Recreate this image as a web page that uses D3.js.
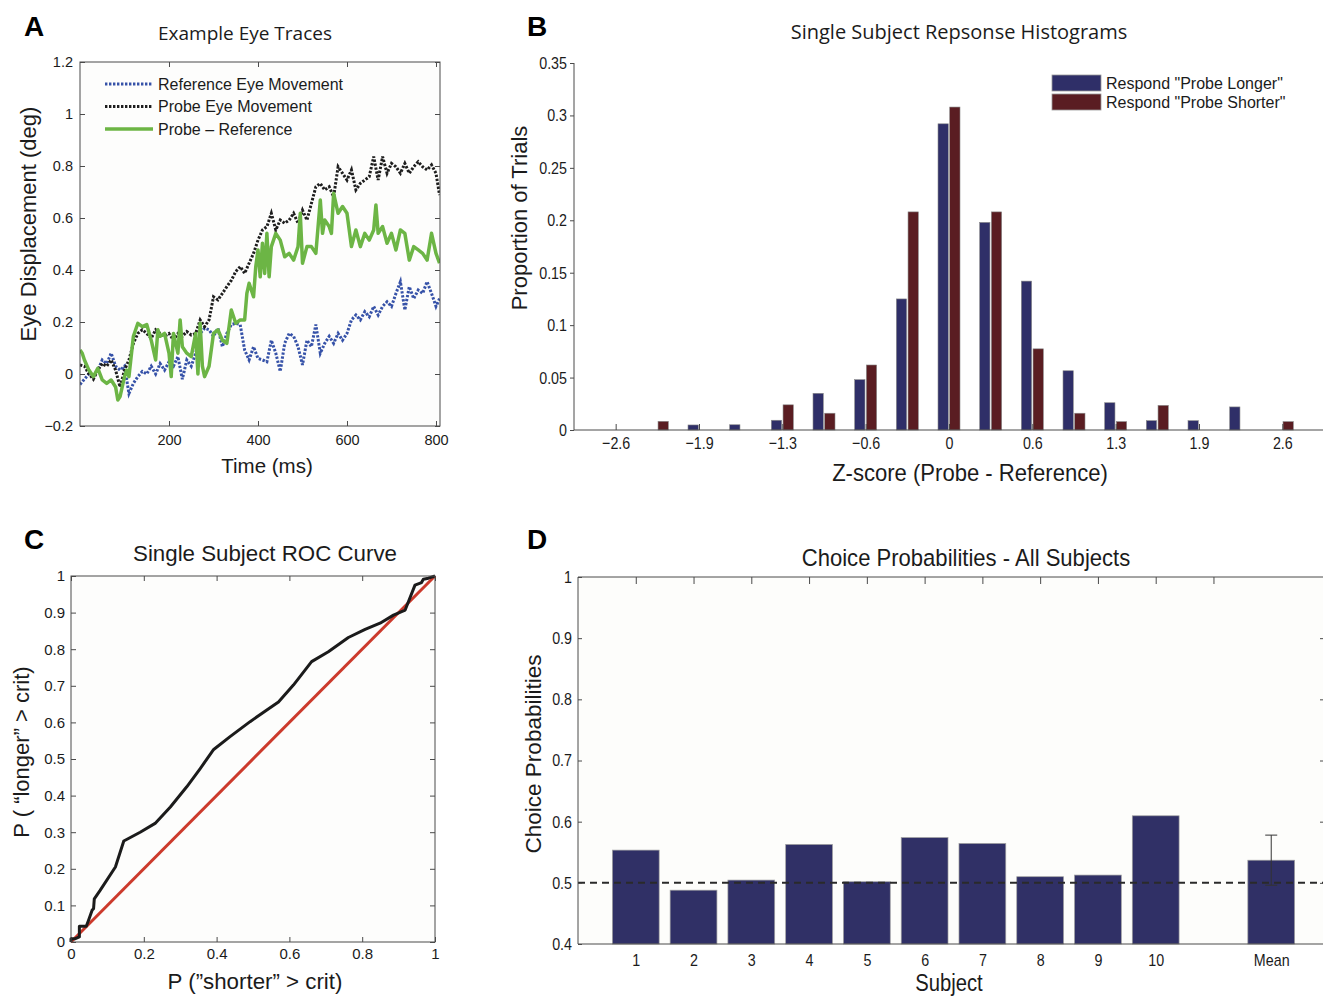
<!DOCTYPE html>
<html><head><meta charset="utf-8">
<script src="https://cdn.jsdelivr.net/npm/d3@7"></script>
<style>body{margin:0;background:#fff}</style>
</head><body>
<svg id="c" width="1323" height="999" xmlns="http://www.w3.org/2000/svg"></svg>
<script>
// ---------------- DATA ----------------
// Panel A: eye traces
const refT = [0,10,20,30,40,50,60,70,80,90,100,110,120,130,140,150,160,170,180,190,200,210,220,230,240,250,260,270,280,290,300,310,320,330,340,350,360,370,380,390,400,410,420,430,440,450,460,470,480,490,500,510,520,530,540,550,560,570,580,590,600,610,620,630,640,650,660,670,680,690,700,710,720,730,740,750,760,770,780,790,800,808];
const refY = [-0.04,-0.02,0.0,-0.01,0.015,0.054,0.04,0.08,0.03,0.015,0.03,-0.075,-0.036,-0.01,0.01,0.0,0.03,0.0,0.04,0.015,0.047,0.03,0.067,-0.02,0.054,0.03,0.08,0.156,0.176,0.17,0.145,0.176,0.105,0.156,0.19,0.195,0.19,0.092,0.054,0.105,0.06,0.054,0.047,0.13,0.08,0.01,0.118,0.156,0.145,0.105,0.035,0.13,0.105,0.19,0.08,0.118,0.145,0.118,0.156,0.13,0.156,0.208,0.227,0.208,0.24,0.22,0.26,0.227,0.26,0.278,0.26,0.31,0.355,0.246,0.336,0.29,0.323,0.31,0.355,0.31,0.26,0.29];
const probeT = [0,10,20,30,40,50,60,70,80,90,100,110,120,130,140,150,160,170,180,190,200,210,220,230,240,250,260,270,280,290,300,310,320,330,340,350,360,370,380,390,400,410,420,430,440,450,460,470,480,490,500,510,520,530,540,550,560,570,580,590,600,610,620,630,640,650,660,670,680,690,700,710,720,730,740,750,760,770,780,790,800,808];
const probeY = [0.035,0.03,0.0,-0.02,0.015,0.04,0.03,0.054,0.015,-0.05,0.015,0.054,0.118,0.156,0.17,0.156,0.137,0.17,0.156,0.145,0.156,0.13,0.156,0.145,0.163,0.15,0.156,0.208,0.182,0.208,0.297,0.285,0.31,0.336,0.36,0.394,0.413,0.387,0.426,0.464,0.515,0.554,0.567,0.618,0.554,0.592,0.58,0.592,0.618,0.58,0.63,0.592,0.656,0.72,0.733,0.708,0.72,0.682,0.797,0.772,0.746,0.785,0.708,0.733,0.746,0.759,0.836,0.746,0.836,0.772,0.81,0.797,0.772,0.81,0.772,0.797,0.816,0.797,0.785,0.804,0.772,0.688];
const diffT = [0,5,10,20,30,40,50,60,70,80,85,90,100,105,110,120,130,140,150,160,170,175,180,190,200,205,210,220,225,230,240,250,260,265,270,275,280,290,300,310,320,330,340,350,360,370,375,380,390,395,400,405,410,415,420,425,430,440,450,460,470,480,490,495,500,510,520,530,540,545,550,560,565,570,580,590,600,610,620,630,640,650,660,665,670,680,690,700,710,720,730,740,750,760,770,780,790,800,808];
const diffY = [0.092,0.08,0.054,0.015,-0.01,0.022,-0.023,-0.036,-0.023,-0.05,-0.1,-0.087,-0.01,0.015,-0.01,0.145,0.195,0.182,0.19,0.13,0.054,0.17,0.145,0.156,0.08,-0.01,0.156,0.08,0.208,0.105,0.08,0.067,0.156,0.0,0.195,0.03,-0.01,0.03,0.156,0.17,0.13,0.118,0.246,0.195,0.208,0.208,0.31,0.349,0.297,0.413,0.477,0.374,0.503,0.387,0.541,0.374,0.49,0.541,0.515,0.451,0.464,0.438,0.49,0.618,0.426,0.49,0.49,0.464,0.669,0.541,0.592,0.567,0.541,0.695,0.618,0.644,0.618,0.49,0.554,0.49,0.541,0.515,0.554,0.65,0.541,0.567,0.503,0.541,0.477,0.554,0.541,0.438,0.49,0.477,0.464,0.438,0.541,0.464,0.426];
const aLegend = ["Reference Eye Movement","Probe Eye Movement","Probe \u2013 Reference"];
const aXTicks = [200,400,600,800];
const aYTicks = [-0.2,0,0.2,0.4,0.6,0.8,1,1.2];
const aYTickLabels = ["\u22120.2","0","0.2","0.4","0.6","0.8","1","1.2"];

// Panel B: histograms
const binCenters = [-2.6,-2.275,-1.95,-1.625,-1.3,-0.975,-0.65,-0.325,0,0.325,0.65,0.975,1.3,1.625,1.95,2.275,2.6];
const longerVals = [0,0,0.0048,0.005,0.0093,0.035,0.048,0.125,0.292,0.198,0.142,0.0565,0.026,0.0089,0.0089,0.022,0];
const shorterVals = [0,0.0083,0,0,0.024,0.016,0.062,0.208,0.308,0.208,0.0774,0.016,0.008,0.0235,0,0,0.008];
const bLegend = ["Respond \"Probe Longer\"","Respond \"Probe Shorter\""];
const bXTicks = [-2.6,-1.95,-1.3,-0.65,0,0.65,1.3,1.95,2.6];
const bXTickLabels = ["\u22122.6","\u22121.9","\u22121.3","\u22120.6","0","0.6","1.3","1.9","2.6"];
const bYTicks = [0,0.05,0.1,0.15,0.2,0.25,0.3,0.35];
const bYTickLabels = ["0","0.05","0.1","0.15","0.2","0.25","0.3","0.35"];

// Panel C: ROC curve
const rocX = [0,0,0.012,0.023,0.023,0.042,0.048,0.058,0.062,0.064,0.08,0.122,0.145,0.19,0.231,0.273,0.318,0.355,0.392,0.437,0.492,0.538,0.57,0.611,0.661,0.707,0.762,0.808,0.849,0.886,0.918,0.945,0.963,0.968,0.982,1];
const rocY = [0,0.009,0.009,0.014,0.043,0.043,0.059,0.087,0.091,0.118,0.141,0.205,0.276,0.30,0.324,0.369,0.424,0.474,0.526,0.561,0.602,0.634,0.656,0.702,0.766,0.793,0.832,0.854,0.871,0.893,0.907,0.975,0.982,0.991,0.994,1];
const chanceX = [0,1];
const chanceY = [0,1];
const cXTicks = [0,0.2,0.4,0.6,0.8,1];
const cYTicks = [0,0.1,0.2,0.3,0.4,0.5,0.6,0.7,0.8,0.9,1];

// Panel D: choice probabilities
const subjects = ["1","2","3","4","5","6","7","8","9","10","Mean"];
const subjectPos = [1,2,3,4,5,6,7,8,9,10,12];
const choiceProb = [0.5535,0.488,0.5045,0.5628,0.5018,0.574,0.5644,0.51,0.5127,0.6096,0.537];
const meanErr = 0.041;
const dTopTicks = [1,2,3,4,5,6,7,8,9,10,11];
const dYTicks = [0.4,0.5,0.6,0.7,0.8,0.9,1];
const dYTickLabels = ["0.4","0.5","0.6","0.7","0.8","0.9","1"];
const chanceLevel = 0.5;

// ---------------- STYLE ----------------
const HELV = "'Liberation Sans', Arial, Helvetica, sans-serif";
const MYR = "'Open Sans', 'Noto Sans', sans-serif";
const TXT = "#1b1b1b";
const AXC = "#4a4a4a";

const svg = d3.select("#c");
svg.append("rect").attr("width",1323).attr("height",999).attr("fill","#fff");

function text(g, x, y, s, size, family, anchor) {
  return g.append("text").attr("x",x).attr("y",y).text(s)
    .attr("font-size",size).attr("font-family",family).attr("fill",TXT)
    .attr("text-anchor",anchor||"middle");
}
function vtext(g, x, y, s, size, family) {
  return g.append("text").attr("transform",`translate(${x},${y}) rotate(-90)`)
    .text(s).attr("font-size",size).attr("font-family",family).attr("fill",TXT).attr("text-anchor","middle");
}
// horizontally condense text (emulates a condensed typeface)
function condense(sel, f) {
  sel.each(function(){
    const w = this.getComputedTextLength();
    if (w>0) d3.select(this).attr("textLength", w*f).attr("lengthAdjust","spacingAndGlyphs");
  });
  return sel;
}
function styleAxis(sel, size, family, cf) {
  sel.select(".domain").remove();
  sel.selectAll(".tick line").attr("stroke",AXC).attr("stroke-width",1);
  const t = sel.selectAll(".tick text").attr("font-size",size).attr("font-family",family).attr("fill",TXT);
  if (cf) condense(t, cf);
  return sel;
}

// Panel letters
[["A",24,36],["B",527,36],["C",24,549],["D",527,549]].forEach(([l,x,y])=>{
  svg.append("text").attr("x",x).attr("y",y).text(l).attr("font-size",28)
    .attr("font-weight","bold").attr("font-family",HELV).attr("fill","#000");
});

// ---------------- PANEL A ----------------
{
  const L=80,R=440,T=62,B=426;
  const x = d3.scaleLinear().domain([0,809]).range([L,R]);
  const y = d3.scaleLinear().domain([-0.2,1.2]).range([B,T]);
  const g = svg.append("g");
  g.append("rect").attr("x",L).attr("y",T).attr("width",R-L).attr("height",B-T).attr("fill","#fdfdfc");
  const fmtY = d => aYTickLabels[aYTicks.indexOf(d)];
  styleAxis(g.append("g").attr("transform",`translate(${L},0)`)
    .call(d3.axisLeft(y).tickValues(aYTicks).tickFormat(fmtY).tickSizeInner(-5).tickSizeOuter(0).tickPadding(7)),14.5,HELV);
  styleAxis(g.append("g").attr("transform",`translate(${R},0)`)
    .call(d3.axisRight(y).tickValues(aYTicks).tickFormat("").tickSizeInner(-5).tickSizeOuter(0)),14,HELV);
  styleAxis(g.append("g").attr("transform",`translate(0,${B})`)
    .call(d3.axisBottom(x).tickValues(aXTicks).tickFormat(d3.format("d")).tickSizeInner(-5).tickSizeOuter(0).tickPadding(9)),14.5,HELV);
  styleAxis(g.append("g").attr("transform",`translate(0,${T})`)
    .call(d3.axisTop(x).tickValues(aXTicks).tickFormat("").tickSizeInner(-5).tickSizeOuter(0)),14,HELV);

  const line = d3.line().x(d=>x(d[0])).y(d=>y(d[1]));
  g.append("clipPath").attr("id","clipA").append("rect").attr("x",L).attr("y",T).attr("width",R-L).attr("height",B-T);
  const lines = g.append("g").attr("clip-path","url(#clipA)");
  lines.append("path").datum(refT.map((t,i)=>[t,refY[i]])).attr("d",line)
    .attr("fill","none").attr("stroke","#3652a8").attr("stroke-width",3).attr("stroke-dasharray","2.4,1.6");
  lines.append("path").datum(probeT.map((t,i)=>[t,probeY[i]])).attr("d",line)
    .attr("fill","none").attr("stroke","#1e1e1e").attr("stroke-width",3).attr("stroke-dasharray","2.4,1.6");
  lines.append("path").datum(diffT.map((t,i)=>[t,diffY[i]])).attr("d",line)
    .attr("fill","none").attr("stroke","#6cb545").attr("stroke-width",3.5).attr("stroke-linejoin","round");

  g.append("rect").attr("x",L).attr("y",T).attr("width",R-L).attr("height",B-T).attr("fill","none").attr("stroke",AXC).attr("stroke-width",1);

  const ls = [{c:"#3652a8",d:"2.4,1.6",w:3},{c:"#1e1e1e",d:"2.4,1.6",w:3},{c:"#6cb545",d:null,w:3.5}];
  aLegend.forEach((s,i)=>{
    const yy = 84 + i*22.5;
    const p = g.append("line").attr("x1",105).attr("x2",153).attr("y1",yy).attr("y2",yy)
      .attr("stroke",ls[i].c).attr("stroke-width",ls[i].w);
    if (ls[i].d) p.attr("stroke-dasharray",ls[i].d);
    text(g,158,yy+5.5,s,16,HELV,"start");
  });

  text(g,245,40,"Example Eye Traces",19,MYR);
  text(g,267,473,"Time (ms)",20.5,HELV);
  vtext(g,36,224,"Eye Displacement (deg)",22,HELV);
}

// ---------------- PANEL B ----------------
{
  const L=574,R=1324,T=63,B=430;
  const x = d3.scaleLinear().domain([-2.925,2.925]).range([L,R]);
  const y = d3.scaleLinear().domain([0,0.35]).range([B,T]);
  const sub = d3.scaleBand().domain(["L","S"]).range([-11,11]).paddingInner(0.12);
  const g = svg.append("g");
  const colL = "#2f2f68", colS = "#5a1d22";
  binCenters.forEach((c,i)=>{
    [["L",longerVals[i],colL],["S",shorterVals[i],colS]].forEach(([k,v,col])=>{
      if (v<=0) return;
      g.append("rect").attr("x",x(c)+sub(k)).attr("width",sub.bandwidth())
        .attr("y",y(v)).attr("height",y(0)-y(v)).attr("fill",col)
        .attr("stroke","#8a8a8a").attr("stroke-width",0.6);
    });
  });
  const fmtX = d => bXTickLabels[bXTicks.indexOf(d)];
  const fmtY = d => bYTickLabels[bYTicks.indexOf(d)];
  styleAxis(g.append("g").attr("transform",`translate(0,${B})`)
    .call(d3.axisBottom(x).tickValues(bXTicks).tickFormat(fmtX).tickSizeInner(-6).tickSizeOuter(0).tickPadding(7)),17,HELV,0.84);
  styleAxis(g.append("g").attr("transform",`translate(${L},0)`)
    .call(d3.axisLeft(y).tickValues(bYTicks).tickFormat(fmtY).tickSizeInner(4).tickSizeOuter(0).tickPadding(3)),17,HELV,0.84);
  g.append("line").attr("x1",L).attr("x2",R).attr("y1",B).attr("y2",B).attr("stroke",AXC);
  g.append("line").attr("x1",L).attr("x2",L).attr("y1",T).attr("y2",B).attr("stroke",AXC);

  [colL,colS].forEach((col,i)=>{
    g.append("rect").attr("x",1052).attr("y",75+i*19).attr("width",49).attr("height",16)
      .attr("fill",col).attr("stroke","#9a9a9a").attr("stroke-width",0.8);
    text(g,1106,89+i*19,bLegend[i],16,HELV,"start");
  });

  text(g,959,39,"Single Subject Repsonse Histograms",20,MYR);
  condense(text(g,970,481,"Z-score (Probe - Reference)",24.5,HELV),0.9);
  vtext(g,527,218,"Proportion of Trials",22,HELV);
}

// ---------------- PANEL C ----------------
{
  const L=71,R=435,T=576,B=942;
  const x = d3.scaleLinear().domain([0,1]).range([L,R]);
  const y = d3.scaleLinear().domain([0,1]).range([B,T]);
  const g = svg.append("g");
  g.append("rect").attr("x",L).attr("y",T).attr("width",R-L).attr("height",B-T).attr("fill","#fdfdfc");
  const fy = d => d===0||d===1 ? d3.format("d")(d) : d3.format(".1f")(d);
  styleAxis(g.append("g").attr("transform",`translate(${L},0)`)
    .call(d3.axisLeft(y).tickValues(cYTicks).tickFormat(fy).tickSizeInner(-5).tickSizeOuter(0).tickPadding(6)),15,HELV);
  styleAxis(g.append("g").attr("transform",`translate(${R},0)`)
    .call(d3.axisRight(y).tickValues(cYTicks).tickFormat("").tickSizeInner(-5).tickSizeOuter(0)),15,HELV);
  styleAxis(g.append("g").attr("transform",`translate(0,${B})`)
    .call(d3.axisBottom(x).tickValues(cXTicks).tickFormat(fy).tickSizeInner(-5).tickSizeOuter(0).tickPadding(6)),15,HELV);
  styleAxis(g.append("g").attr("transform",`translate(0,${T})`)
    .call(d3.axisTop(x).tickValues(cXTicks).tickFormat("").tickSizeInner(-5).tickSizeOuter(0)),15,HELV);
  const line = d3.line().x(d=>x(d[0])).y(d=>y(d[1]));
  g.append("path").datum(chanceX.map((v,i)=>[v,chanceY[i]])).attr("d",line)
    .attr("fill","none").attr("stroke","#cc3a2c").attr("stroke-width",3);
  g.append("path").datum(rocX.map((v,i)=>[v,rocY[i]])).attr("d",line)
    .attr("fill","none").attr("stroke","#1b1b1b").attr("stroke-width",3).attr("stroke-linejoin","round");
  g.append("rect").attr("x",L).attr("y",T).attr("width",R-L).attr("height",B-T).attr("fill","none").attr("stroke",AXC);

  text(g,265,561,"Single Subject ROC Curve",22.3,HELV);
  text(g,255,989,"P (\u201Dshorter\u201D > crit)",22.3,HELV);
  vtext(g,29,752,"P ( \u201Clonger\u201D > crit)",22,HELV);
}

// ---------------- PANEL D ----------------
{
  const L=578,R=1329,T=577,B=944;
  const x = d3.scaleLinear().domain([0,13]).range([L,R]);
  const y = d3.scaleLinear().domain([0.4,1]).range([B,T]);
  const g = svg.append("g");
  g.append("rect").attr("x",L).attr("y",T).attr("width",R-L).attr("height",B-T).attr("fill","#fdfdfb");
  const bw = x(0.81)-x(0);
  subjectPos.forEach((p,i)=>{
    g.append("rect").attr("x",x(p)-bw/2).attr("width",bw).attr("y",y(choiceProb[i]))
      .attr("height",y(0.4)-y(choiceProb[i])).attr("fill","#303066")
      .attr("stroke","#a0a0a0").attr("stroke-width",0.7);
  });
  g.append("line").attr("x1",x(0)).attr("x2",x(13)).attr("y1",y(chanceLevel)).attr("y2",y(chanceLevel))
    .attr("stroke","#2a2a2a").attr("stroke-width",2).attr("stroke-dasharray","7,5");
  const mi = subjects.indexOf("Mean");
  const mx = x(subjectPos[mi]), m = choiceProb[mi];
  g.append("line").attr("x1",mx).attr("x2",mx).attr("y1",y(m+meanErr)).attr("y2",y(m-meanErr)).attr("stroke","#333").attr("stroke-width",1);
  [m+meanErr,m-meanErr].forEach(v=>{
    g.append("line").attr("x1",mx-6).attr("x2",mx+6).attr("y1",y(v)).attr("y2",y(v)).attr("stroke","#333").attr("stroke-width",1);
  });
  const fy = d => dYTickLabels[dYTicks.indexOf(d)];
  styleAxis(g.append("g").attr("transform",`translate(${L},0)`)
    .call(d3.axisLeft(y).tickValues(dYTicks).tickFormat(fy).tickSizeInner(-4).tickSizeOuter(0).tickPadding(6)),17,HELV,0.84);
  styleAxis(g.append("g").attr("transform",`translate(1325,0)`)
    .call(d3.axisRight(y).tickValues(dYTicks.slice(1,-1)).tickFormat("").tickSizeInner(-5).tickSizeOuter(0)),15,HELV);
  styleAxis(g.append("g").attr("transform",`translate(0,${T})`)
    .call(d3.axisTop(x).tickValues(dTopTicks).tickFormat("").tickSizeInner(-7).tickSizeOuter(0)),15,HELV);
  styleAxis(g.append("g").attr("transform",`translate(0,${B})`)
    .call(d3.axisBottom(x).tickValues(subjectPos).tickFormat((d,i)=>subjects[i]).tickSizeInner(0).tickSizeOuter(0).tickPadding(10)),17,HELV,0.84);
  g.append("line").attr("x1",L).attr("x2",R).attr("y1",T).attr("y2",T).attr("stroke",AXC);
  g.append("line").attr("x1",L).attr("x2",R).attr("y1",B).attr("y2",B).attr("stroke",AXC);
  g.append("line").attr("x1",L).attr("x2",L).attr("y1",T).attr("y2",B).attr("stroke",AXC);

  condense(text(g,966,566,"Choice Probabilities - All Subjects",24.5,HELV),0.9);
  condense(text(g,949,991,"Subject",23,HELV),0.88);
  vtext(g,541,754,"Choice Probabilities",22.5,HELV);
}
</script>
</body></html>
